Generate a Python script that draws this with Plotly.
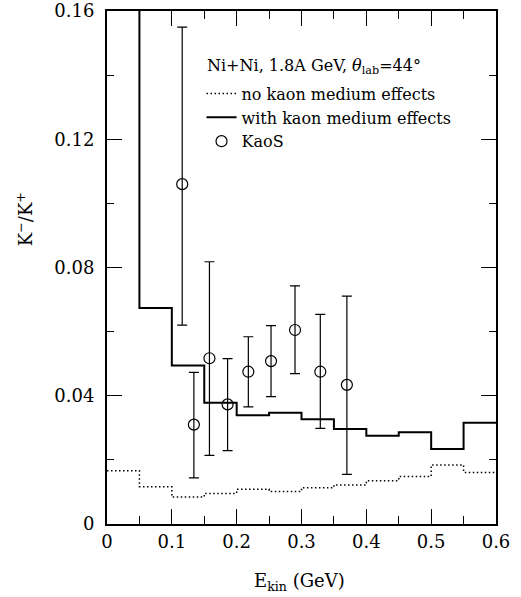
import plotly.graph_objects as go

# Histogram bin edges (GeV) and K-/K+ ratios
bin_edges = [0.0, 0.05, 0.10, 0.15, 0.20, 0.25, 0.30, 0.35, 0.40, 0.45, 0.50, 0.55, 0.60]
with_medium = [0.20, 0.0674, 0.0494, 0.0378, 0.0339, 0.0347, 0.0327, 0.0296, 0.0275, 0.0286, 0.0234, 0.0316]
no_medium = [0.0166, 0.0116, 0.0084, 0.0095, 0.0108, 0.0101, 0.0113, 0.0122, 0.0135, 0.0148, 0.0184, 0.0161]

# KaoS data
kaos_e = [0.116, 0.134, 0.158, 0.186, 0.218, 0.253, 0.290, 0.329, 0.370]
kaos_r = [0.106, 0.031, 0.0517, 0.0373, 0.0475, 0.0508, 0.0605, 0.0475, 0.0434]
kaos_hi = [0.155, 0.0473, 0.0818, 0.0516, 0.0584, 0.0619, 0.0743, 0.0654, 0.0711]
kaos_lo = [0.062, 0.0144, 0.0214, 0.0229, 0.0365, 0.0397, 0.0469, 0.0298, 0.0155]

x_ticks = [0, 0.1, 0.2, 0.3, 0.4, 0.5, 0.6]
x_ticktext = ["0", "0.1", "0.2", "0.3", "0.4", "0.5", "0.6"]
y_ticks = [0, 0.04, 0.08, 0.12, 0.16]
y_ticktext = ["0", "0.04", "0.08", "0.12", "0.16"]

FONT = "DejaVu Serif"

def step(vals):
    return list(bin_edges), list(vals) + [vals[-1]]

fig = go.Figure()
xs, ys = step(no_medium)
fig.add_trace(go.Scatter(x=xs, y=ys, mode="lines",
                         line=dict(shape="hv", color="black", width=1.5, dash="1.5px,2.5px"),
                         name="no kaon medium effects"))
xs, ys = step(with_medium)
fig.add_trace(go.Scatter(x=xs, y=ys, mode="lines", line=dict(shape="hv", color="black", width=2),
                         name="with kaon medium effects"))
fig.add_trace(go.Scatter(
    x=kaos_e, y=kaos_r, mode="markers", name="KaoS",
    marker=dict(symbol="circle-open", size=11, color="black", line=dict(width=1.2, color="black")),
    error_y=dict(type="data", symmetric=False,
                 array=[h - r for h, r in zip(kaos_hi, kaos_r)],
                 arrayminus=[r - l for r, l in zip(kaos_r, kaos_lo)],
                 width=5, thickness=1.2, color="black"),
))

axis_common = dict(showline=True, linecolor="black", linewidth=2, mirror="ticks", ticks="inside",
                   tickcolor="black", tickwidth=1.2, ticklen=15, showgrid=False, zeroline=False,
                   automargin=False,
                   tickfont=dict(family=FONT, size=18, color="black"))
fig.update_xaxes(range=[0, 0.6], tickvals=x_ticks, ticktext=x_ticktext, ticklabelstandoff=0,
                 minor=dict(dtick=0.05, ticks="inside", ticklen=8, tickcolor="black", tickwidth=1.2, showgrid=False),
                 **axis_common)
fig.update_yaxes(range=[0, 0.16], tickvals=y_ticks, ticktext=y_ticktext, ticklabelstandoff=7,
                 minor=dict(dtick=0.02, ticks="inside", ticklen=7, tickcolor="black", tickwidth=1.2, showgrid=False),
                 **axis_common)

fig.update_layout(
    width=521, height=597,
    margin=dict(l=107, r=25, t=11, b=73),
    plot_bgcolor="white", paper_bgcolor="white",
    font=dict(family=FONT, size=16, color="black"),
    legend=dict(x=0.243, y=0.872, xanchor="left", yanchor="top", bgcolor="rgba(0,0,0,0)",
                font=dict(family=FONT, size=16), tracegroupgap=0),
    showlegend=True,
    annotations=[
        dict(text="Ni+Ni, 1.8A GeV, <i>θ</i><sub>lab</sub>=44°", xref="paper", yref="paper",
             x=0.252, y=0.892, xanchor="left", yanchor="middle", showarrow=False,
             font=dict(family=FONT, size=16)),
        dict(text="E<sub>kin</sub> (GeV)", xref="paper", yref="paper", x=0.496, y=-0.113,
             showarrow=False, font=dict(family=FONT, size=18), xanchor="center", yanchor="middle"),
        dict(text="K<sup>−</sup>/K<sup>+</sup>", xref="paper", yref="paper", x=-0.211, y=0.594,
             showarrow=False, textangle=-90, font=dict(family=FONT, size=18), xanchor="center", yanchor="middle"),
    ],
)

# remove the default 8px page margin so the figure fills the window exactly
fig.write_html("out.html", config={"displayModeBar": False},
               post_script="document.body.style.margin='0px';")
